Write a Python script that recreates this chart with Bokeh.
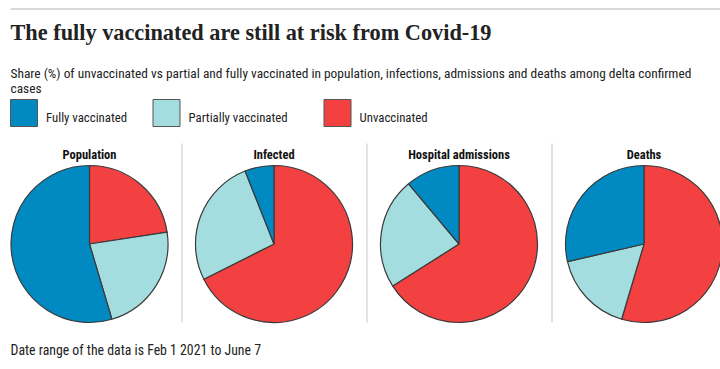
import numpy as np
from bokeh.plotting import figure
from bokeh.models import Range1d, ColumnDataSource
from bokeh.core.properties import value
from bokeh.embed import file_html
from bokeh.resources import INLINE

# ---- data ----
panels = ["Population", "Infected", "Hospital admissions", "Deaths"]
unvaccinated = [22.6, 67.6, 66.0, 54.6]
partially = [22.8, 26.4, 22.9, 16.8]
fully = [54.6, 6.0, 11.1, 28.6]
legend_labels = ["Fully vaccinated", "Partially vaccinated", "Unvaccinated"]
title = "The fully vaccinated are still at risk from Covid-19"
subtitle = ["Share (%) of unvaccinated vs partial and fully vaccinated in population, infections, admissions and deaths among delta confirmed",
            "cases"]
note = "Date range of the data is Feb 1 2021 to June 7"

COL = {"Fully vaccinated": "#008ac1", "Partially vaccinated": "#a4dddf", "Unvaccinated": "#f34041"}
EDGE = "#3a3a3a"
SANS = "Roboto Condensed"

W, H = 720, 369
p = figure(width=W, height=H, x_range=Range1d(0, W), y_range=Range1d(0, H),
           output_backend="svg", toolbar_location=None, min_border=0)
p.axis.visible = False
p.grid.visible = False
p.outline_line_color = None
p.background_fill_color = "white"


def Y(ys):
    return H - np.asarray(ys, dtype=float)


# top rule
p.segment(x0=[10], y0=Y([8.5]), x1=[720], y1=Y([8.5]), line_color="#d9d9d9", line_width=2)

# title & subtitle
p.text(x=[10], y=Y([32]), text=[title], text_font=value("Liberation Serif"), text_font_style="bold",
       text_font_size="22.3px", text_color="#222222", text_baseline="alphabetic")
p.text(x=[10, 10], y=Y([73, 87.5]), text=subtitle, text_font=value(SANS), text_font_size="13.4px",
       text_color="#222222", text_baseline="alphabetic")

# legend
leg_x = [10, 152.5, 323.5]
p.quad(left=leg_x, right=[x + 27 for x in leg_x], top=Y([99] * 3), bottom=Y([126] * 3),
       fill_color=[COL[l] for l in legend_labels], line_color="#555555", line_width=1)
p.text(x=[x + 35.5 for x in leg_x], y=Y([116.5] * 3), text=legend_labels, text_font=value(SANS),
       text_font_size="12.8px", text_color="#222222", text_baseline="alphabetic")

# separators
sep_x = [181.5, 366.5, 551.5]
p.segment(x0=sep_x, y0=Y([143] * 3), x1=sep_x, y1=Y([322] * 3), line_color="#e3e3e3", line_width=2)

# pies
cx = [89, 273.5, 458.5, 643.5]
cy = 243.5
r = 78.5
rows = dict(x=[], y=[], start=[], end=[], color=[])
for i in range(len(panels)):
    vals = [unvaccinated[i], partially[i], fully[i]]
    cats = ["Unvaccinated", "Partially vaccinated", "Fully vaccinated"]
    tot = sum(vals)
    cum = np.concatenate([[0], np.cumsum(vals)]) / tot
    for j in range(3):
        rows["x"].append(cx[i])
        rows["y"].append(float(Y(cy)))
        rows["start"].append(np.pi / 2 - cum[j] * 2 * np.pi)
        rows["end"].append(np.pi / 2 - cum[j + 1] * 2 * np.pi)
        rows["color"].append(COL[cats[j]])
src = ColumnDataSource(rows)
p.wedge(x="x", y="y", radius=r, start_angle="start", end_angle="end", direction="clock",
        fill_color="color", line_color=EDGE, line_width=1.2, source=src)

p.text(x=cx, y=Y([153.5] * 4), text=panels, text_font=value(SANS), text_font_style="bold",
       text_font_size="12.5px", text_color="#111111", text_align="center", text_baseline="alphabetic")

# footnote
p.text(x=[10], y=Y([349]), text=[note], text_font=value(SANS), text_font_size="13.8px",
       text_color="#222222", text_baseline="alphabetic")

open("out.html", "w").write(file_html(p, INLINE))
